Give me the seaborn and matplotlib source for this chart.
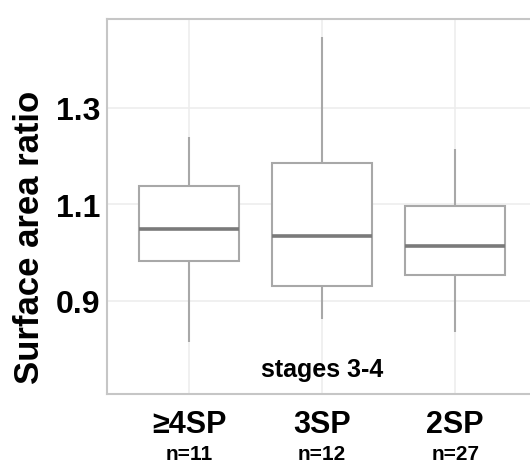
import matplotlib
matplotlib.use("Agg")
import matplotlib.pyplot as plt
import seaborn as sns
import pandas as pd

# five-number summaries (min, Q1, median, Q3, max)
groups = ['≥4SP', '3SP', '2SP']
counts = ['n=11', 'n=12', 'n=27']
ratio_4sp = [0.815, 0.982, 1.048, 1.137, 1.240]
ratio_3sp = [0.863, 0.931, 1.034, 1.186, 1.447]
ratio_2sp = [0.836, 0.954, 1.013, 1.096, 1.215]

data = pd.DataFrame({
    'group': [groups[0]] * 5 + [groups[1]] * 5 + [groups[2]] * 5,
    'ratio': ratio_4sp + ratio_3sp + ratio_2sp,
})

sns.set_style('whitegrid')
plt.rcParams['font.family'] = ['Liberation Sans', 'DejaVu Sans']
plt.rcParams['text.color'] = 'black'
plt.rcParams['xtick.labelcolor'] = 'black'
plt.rcParams['ytick.labelcolor'] = 'black'

fig = plt.figure(figsize=(5.3, 4.64), dpi=100)
ax = fig.add_axes([107 / 530, 1 - 395 / 464, (535 - 107) / 530, (395 - 20) / 464])

sns.boxplot(data=data, x='group', y='ratio', order=groups, whis=(0, 100),
            color='white', linecolor='#a8a8a8', linewidth=1.5, width=0.75,
            showcaps=False, fliersize=0,
            medianprops=dict(color='#7a7a7a', linewidth=2.6), ax=ax)

ax.set_xlim(-0.617, 2.6)
ax.set_ylim(0.707, 1.484)
ax.set_yticks([0.9, 1.1, 1.3])
ax.set_yticklabels(['0.9', '1.1', '1.3'], fontsize=23, fontweight='bold')
ax.set_xticks(range(len(groups)))
ax.set_xticklabels(groups, fontsize=22, fontweight='bold')
ax.set_xlabel('')
ax.set_ylabel('')

ax.grid(True, color='#ededed', linewidth=1.2)
ax.tick_params(axis='both', length=3, color='#bbbbbb', width=1)
ax.tick_params(axis='x', pad=8)
ax.tick_params(axis='y', pad=2)
for s in ax.spines.values():
    s.set_color('#c6c6c6')
    s.set_linewidth(1.5)

for i, c in enumerate(counts):
    ax.annotate(c, xy=(i, 0), xycoords=('data', 'axes fraction'),
                xytext=(0, -65), textcoords='offset pixels',
                ha='center', va='baseline', fontsize=15, fontweight='bold')

ax.text(1, 0.759, 'stages 3-4', ha='center', va='center',
        fontsize=18, fontweight='bold')

fig.text(30 / 530, 1 - 237 / 464, 'Surface area ratio', rotation=90,
         ha='center', va='center', fontsize=25, fontweight='bold')

fig.savefig('out.png', dpi=100)
